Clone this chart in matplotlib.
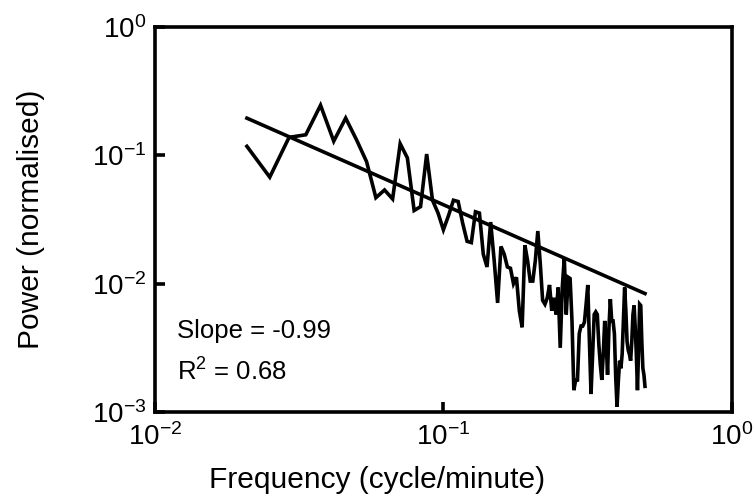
import matplotlib
matplotlib.use("Agg")
import matplotlib.pyplot as plt
import numpy as np

# spectrum bins (cycle/minute): bin k of a 240-sample record, k = 5..120
bins = np.arange(5, 121)
freq = bins / 240

# log10 of the normalised power
log_power = [
    -0.93, -1.17, -0.86, -0.84, -0.61, -0.89, -0.71, -0.88, -1.05, -1.33,
    -1.27, -1.34, -0.91, -1.02, -1.43, -1.40, -0.99, -1.35, -1.45, -1.58,
    -1.47, -1.35, -1.36, -1.53, -1.67, -1.68, -1.44, -1.45, -1.77, -1.87,
    -1.52, -1.82, -2.15, -1.71, -1.77, -1.87, -1.88, -2.00, -1.95, -2.21,
    -2.34, -1.70, -1.82, -1.98, -1.98, -1.82, -1.59, -1.84, -2.13, -2.16,
    -2.11, -2.01, -2.21, -2.11, -2.24, -2.03, -2.50, -2.03, -1.80, -2.24,
    -1.95, -1.96, -2.29, -2.83, -2.75, -2.75, -2.39, -2.33, -2.33, -2.30,
    -2.16, -2.01, -2.45, -2.86, -2.55, -2.24, -2.22, -2.24, -2.47, -2.63,
    -2.75, -2.55, -2.29, -2.45, -2.71, -2.34, -2.12, -2.29, -2.29, -2.39,
    -2.73, -2.96, -2.76, -2.60, -2.66, -2.55, -2.29, -2.03, -2.21, -2.45,
    -2.52, -2.55, -2.60, -2.45, -2.24, -2.17, -2.34, -2.55, -2.83, -2.52,
    -2.16, -2.17, -2.45, -2.66, -2.71, -2.80,
]
power = 10 ** np.array(log_power)

# power-law fit quoted on the chart
fit_slope = -0.99
fit_intercept = -2.375  # log10 power at 1 cycle/minute
r_squared = 0.68

plt.rcParams["font.family"] = ["Liberation Sans", "DejaVu Sans"]
plt.rcParams["mathtext.default"] = "regular"

fig = plt.figure(figsize=(7.56, 5.04), dpi=100)
ax = fig.add_axes([0.205, 0.1825, 0.763, 0.764])

ax.plot(freq, power, color="black", linewidth=2.6, solid_joinstyle="miter")

fit_x = np.array([freq[0], freq[-1]])
fit_y = 10 ** (fit_intercept + fit_slope * np.log10(fit_x))
ax.plot(fit_x, fit_y, color="black", linewidth=2.6)

ax.set_xscale("log")
ax.set_yscale("log")
ax.set_xlim(1e-2, 1e0)
ax.set_ylim(1e-3, 1e0)
ax.minorticks_off()
ax.set_xticks([1e-2, 1e-1, 1e0])
ax.set_yticks([1e-3, 1e-2, 1e-1, 1e0])

for s in ax.spines.values():
    s.set_linewidth(2.6)
ax.tick_params(direction="in", length=7, width=2.6, labelsize=20)
ax.tick_params(axis="x", pad=8)
ax.tick_params(axis="y", pad=6)

# labels sit where the original software put them (x label is left of centre)
ax.set_xlabel("Frequency (cycle/minute)", fontsize=21.5)
ax.xaxis.set_label_coords(0.385, -0.14)
ax.set_ylabel("Power (normalised)", fontsize=21.5)
ax.yaxis.set_label_coords(-0.19, 0.5)

ax.text(0.038, 0.21, "Slope = %.2f" % fit_slope, transform=ax.transAxes,
        fontsize=18.5, va="center", ha="left")
ax.text(0.038, 0.105, "R$^2$ = %.2f" % r_squared, transform=ax.transAxes,
        fontsize=18.5, va="center", ha="left")

fig.savefig("out.png", dpi=100)
